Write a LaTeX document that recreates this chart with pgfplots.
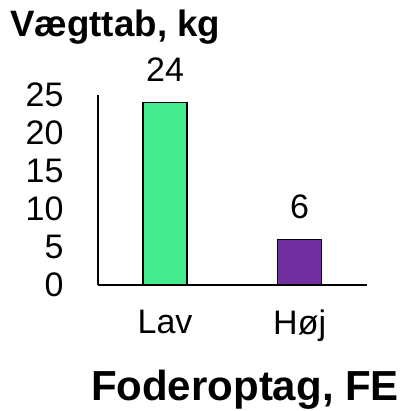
\documentclass[border=0pt]{standalone}
\usepackage{fontspec}
\setmainfont{Liberation Sans}
\usepackage{pgfplots}
\pgfplotsset{compat=1.18}
\definecolor{barGreen}{HTML}{44EB8E}
\definecolor{barPurple}{HTML}{7030A0}
\begin{document}
\begin{tikzpicture}[x=1pt,y=1pt]
\path[use as bounding box] (-97.7,-126) rectangle (307.3,285);
\begin{axis}[
  at={(0pt,0pt)}, anchor=south west,
  scale only axis, width=269.3pt, height=190pt,
  xmin=-0.5, xmax=1.5, ymin=0, ymax=25,
  axis lines=left, axis line style={-, line width=2pt},
  ytick={0,5,10,15,20,25}, xtick={0,1}, xticklabels={Lav,Høj},
  major tick length=0pt,
  tick label style={font=\fontsize{34}{40}\selectfont},
  /pgf/number format/assume math mode=true,
  yticklabel style={anchor=east, inner sep=0pt, xshift=-34pt},
  xticklabel style={anchor=north, inner sep=0pt, yshift=-25pt},
  ybar, bar width=44pt,
  nodes near coords,
  nodes near coords style={font=\fontsize{34}{40}\selectfont, inner sep=0pt, anchor=south, yshift=20pt, /pgf/number format/assume math mode=true},
  clip=false,
]
\addplot[bar shift=0pt, fill=barGreen, draw=black, line width=1.3pt] coordinates {(0,24)};
\addplot[bar shift=0pt, fill=barPurple, draw=black, line width=1.3pt] coordinates {(1,6)};
\end{axis}
\node[anchor=base west, inner sep=0pt, font=\fontsize{36.7}{42}\selectfont\bfseries] at (-87.7,248) {Vægttab, kg};
\node[anchor=base, inner sep=0pt, font=\fontsize{42}{48}\selectfont\bfseries] at (147.3,-115) {Foderoptag, FE};
\end{tikzpicture}
\end{document}
